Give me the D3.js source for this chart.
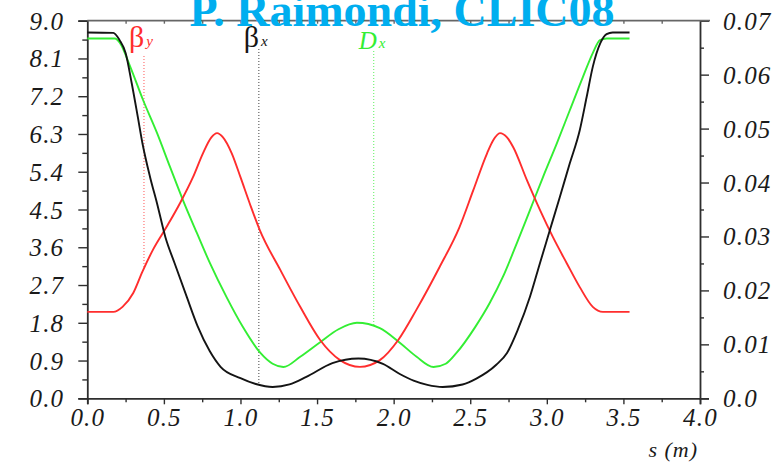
<!DOCTYPE html>
<html>
<head>
<meta charset="utf-8">
<script src="https://cdn.jsdelivr.net/npm/d3@7"></script>
<style>
  html, body { margin: 0; padding: 0; background: #fff; }
  svg { display: block; }
  text { font-family: "Liberation Serif", "Times New Roman", serif; }
</style>
</head>
<body>
<svg id="chart" width="780" height="466"></svg>
<script>
// Optics along the cell: s (m) versus beta functions (m) and dispersion (m)
const betaX = [
  [0.00, 8.72], [0.17, 8.71], [0.21, 8.54], [0.25, 8.23], [0.29, 7.51], [0.33, 6.70],
  [0.36, 6.08], [0.41, 5.27], [0.455, 4.65], [0.51, 3.84], [0.57, 3.22], [0.65, 2.41],
  [0.72, 1.72], [0.80, 1.12], [0.87, 0.75], [1.00, 0.48], [1.10, 0.34], [1.21, 0.27],
  [1.32, 0.33], [1.43, 0.51], [1.60, 0.84], [1.77, 0.95], [1.93, 0.82], [2.04, 0.58],
  [2.13, 0.42], [2.22, 0.32], [2.32, 0.27], [2.45, 0.33], [2.54, 0.47], [2.67, 0.80],
  [2.74, 1.08], [2.81, 1.63], [2.89, 2.42], [2.955, 3.22], [3.02, 4.01], [3.085, 4.80],
  [3.15, 5.60], [3.215, 6.39], [3.26, 7.18], [3.30, 7.90], [3.35, 8.47], [3.39, 8.68],
  [3.43, 8.72], [3.54, 8.72]
];
const betaY = [
  [0.00, 2.06], [0.17, 2.06], [0.23, 2.18], [0.30, 2.51], [0.36, 3.02], [0.43, 3.55],
  [0.52, 4.10], [0.605, 4.65], [0.69, 5.27], [0.755, 5.84], [0.81, 6.22], [0.847, 6.32],
  [0.886, 6.22], [0.943, 5.84], [1.00, 5.27], [1.06, 4.65], [1.126, 4.01], [1.26, 3.06],
  [1.39, 2.18], [1.52, 1.39], [1.65, 0.91], [1.78, 0.75], [1.91, 0.91], [2.03, 1.39],
  [2.15, 2.12], [2.30, 3.13], [2.43, 4.08], [2.52, 4.96], [2.61, 5.84], [2.65, 6.15],
  [2.694, 6.32], [2.74, 6.22], [2.78, 5.99], [2.87, 5.20], [2.955, 4.49], [3.04, 3.84],
  [3.13, 3.22], [3.215, 2.65], [3.30, 2.18], [3.366, 2.06], [3.54, 2.06]
];
const dispX = [
  [0.00, 0.0667], [0.18, 0.0667], [0.213, 0.0659], [0.28, 0.0615], [0.364, 0.0553],
  [0.455, 0.0492], [0.54, 0.0429], [0.625, 0.0367], [0.716, 0.0306], [0.80, 0.0251],
  [0.91, 0.0187], [1.016, 0.0132], [1.13, 0.0084], [1.21, 0.0064], [1.28, 0.0058],
  [1.39, 0.0077], [1.52, 0.0104], [1.64, 0.0128], [1.76, 0.0140], [1.91, 0.0130],
  [2.04, 0.0103], [2.15, 0.0077], [2.26, 0.0058], [2.34, 0.0064], [2.41, 0.0084],
  [2.53, 0.0131], [2.628, 0.0177], [2.713, 0.0225], [2.805, 0.0288], [2.89, 0.0349],
  [2.975, 0.0410], [3.066, 0.0473], [3.15, 0.0534], [3.236, 0.0596], [3.30, 0.0640],
  [3.347, 0.0664], [3.39, 0.0667], [3.54, 0.0667]
];

// Tick values
const sTicks = [0, 0.5, 1.0, 1.5, 2.0, 2.5, 3.0, 3.5, 4.0];
const betaTicks = [0, 0.9, 1.8, 2.7, 3.6, 4.5, 5.4, 6.3, 7.2, 8.1, 9.0];
const dispTicks = [0, 0.01, 0.02, 0.03, 0.04, 0.05, 0.06, 0.07];
const dispTickLabels = ["0.0", "0.01", "0.02", "0.03", "0.04", "0.05", "0.06", "0.07"];

// Curve labels with the s position of their pointer lines
const markers = [
  { key: "betaY", s: 0.37, main: "β", sub: "y", italic: false, lineTop: 56 },
  { key: "betaX", s: 1.12, main: "β", sub: "x", italic: false, lineTop: 49 },
  { key: "dispX", s: 1.87, main: "D", sub: "x", italic: true, lineTop: 51 }
];

const title = "P. Raimondi, CLIC08";
const xTitle = "s (m)";

const colors = { betaX: "#141414", betaY: "#ff2d2d", dispX: "#33ee33" };
const serif = "Liberation Serif, Times New Roman, serif";

const svg = d3.select("#chart");
const plotLeft = 87.3, plotRight = 700, plotTop = 20.7, plotBottom = 398.3;

const x = d3.scaleLinear().domain([0, 4]).range([plotLeft, plotRight]);
const yL = d3.scaleLinear().domain([0, 9]).range([plotBottom, plotTop]);
const yR = d3.scaleLinear().domain([0, 0.07]).range([plotBottom, plotTop]);

const axisColor = "#2e2e2e";
const labelFont = 25;

// ---- Axes ----
const gLeft = svg.append("g").attr("transform", `translate(${plotLeft},0)`);
gLeft.call(d3.axisLeft(yL).tickValues(betaTicks).tickSize(9).tickFormat(d3.format(".1f")));
gLeft.append("g").attr("class", "minor").call(d3.axisLeft(yL)
  .tickValues(betaTicks.slice(0, -1).map(v => v + 0.45)).tickSize(5).tickFormat(""));

const gBottom = svg.append("g").attr("transform", `translate(0,${plotBottom})`);
gBottom.call(d3.axisBottom(x).tickValues(sTicks).tickSize(6).tickFormat(d3.format(".1f")));
gBottom.append("g").attr("class", "minor").call(d3.axisBottom(x)
  .tickValues(sTicks.slice(0, -1).map(v => v + 0.25)).tickSize(4).tickFormat(""));

const gRight = svg.append("g").attr("transform", `translate(${plotRight},0)`);
gRight.call(d3.axisRight(yR).tickValues(dispTicks).tickSize(9)
  .tickFormat((d, i) => dispTickLabels[i]));
gRight.append("g").attr("class", "minor").call(d3.axisRight(yR)
  .tickValues(dispTicks.slice(0, -1).map(v => v + 0.005)).tickSize(4).tickFormat(""));

const gTop = svg.append("g").attr("transform", `translate(0,${plotTop})`);
gTop.call(d3.axisBottom(x).tickValues(d3.range(1, 16).map(i => i * 0.25)).tickSize(3).tickFormat(""));

svg.selectAll(".domain").attr("stroke", axisColor).attr("stroke-width", 1.8);
svg.selectAll(".tick line").attr("stroke", axisColor).attr("stroke-width", 1.4);
svg.selectAll(".minor .domain").remove();
gTop.select(".domain").remove();
gTop.selectAll(".tick line").attr("stroke", "#666");

svg.append("line")
  .attr("x1", plotLeft).attr("x2", plotRight + 10).attr("y1", plotTop).attr("y2", plotTop)
  .attr("stroke", "#666").attr("stroke-width", 1.8);

svg.selectAll(".tick text")
  .attr("font-family", serif)
  .attr("font-style", "italic")
  .attr("font-size", labelFont)
  .attr("letter-spacing", 1.2)
  .attr("fill", "#1a1a1a");
gLeft.selectAll(".tick text").attr("x", -23).attr("dy", "0.34em");
gRight.selectAll(".tick text").attr("x", 23).attr("dy", "0.34em");
gBottom.selectAll(".tick text").attr("y", 10).attr("dy", "0.71em");

svg.append("text")
  .attr("x", 698).attr("y", 457)
  .attr("text-anchor", "end")
  .attr("font-family", serif)
  .attr("font-style", "italic")
  .attr("font-size", 22)
  .attr("letter-spacing", 1)
  .attr("fill", "#1a1a1a")
  .text(xTitle);

// ---- Curves ----
const series = {
  betaX: { data: betaX, y: yL },
  betaY: { data: betaY, y: yL },
  dispX: { data: dispX, y: yR }
};

function valueAt(data, s) {
  for (let i = 1; i < data.length; i++) {
    if (s <= data[i][0]) {
      const [s0, v0] = data[i - 1], [s1, v1] = data[i];
      return v0 + (v1 - v0) * (s - s0) / (s1 - s0);
    }
  }
  return data[data.length - 1][1];
}

// pointer lines from each label down to its curve
markers.forEach(m => {
  const sr = series[m.key];
  svg.append("line")
    .attr("x1", x(m.s)).attr("x2", x(m.s))
    .attr("y1", m.lineTop).attr("y2", sr.y(valueAt(sr.data, m.s)))
    .attr("stroke", colors[m.key])
    .attr("stroke-width", 1)
    .attr("stroke-dasharray", "1,2")
    .attr("opacity", 0.8);
});

["dispX", "betaY", "betaX"].forEach(k => {
  const sr = series[k];
  const line = d3.line()
    .x(d => x(d[0]))
    .y(d => sr.y(d[1]))
    .curve(d3.curveMonotoneX);
  svg.append("path")
    .datum(sr.data)
    .attr("d", line)
    .attr("fill", "none")
    .attr("stroke", colors[k])
    .attr("stroke-width", 1.9)
    .attr("stroke-linejoin", "round");
});

// curve labels
markers.forEach(m => {
  const t = svg.append("text")
    .attr("x", x(m.s) - 15)
    .attr("y", m.italic ? 49 : 47)
    .attr("font-family", serif)
    .attr("fill", colors[m.key]);
  t.append("tspan")
    .attr("font-size", m.italic ? 25 : 30)
    .attr("font-style", m.italic ? "italic" : "normal")
    .text(m.main);
  t.append("tspan")
    .attr("font-size", 15)
    .attr("font-style", "italic")
    .attr("dx", 2)
    .attr("dy", -1)
    .text(m.sub);
});

// ---- Title ----
svg.append("text")
  .attr("x", 402).attr("y", 26)
  .attr("text-anchor", "middle")
  .attr("font-family", serif)
  .attr("font-weight", "bold")
  .attr("font-size", 46)
  .attr("fill", "#00aeef")
  .text(title);
</script>
</body>
</html>
